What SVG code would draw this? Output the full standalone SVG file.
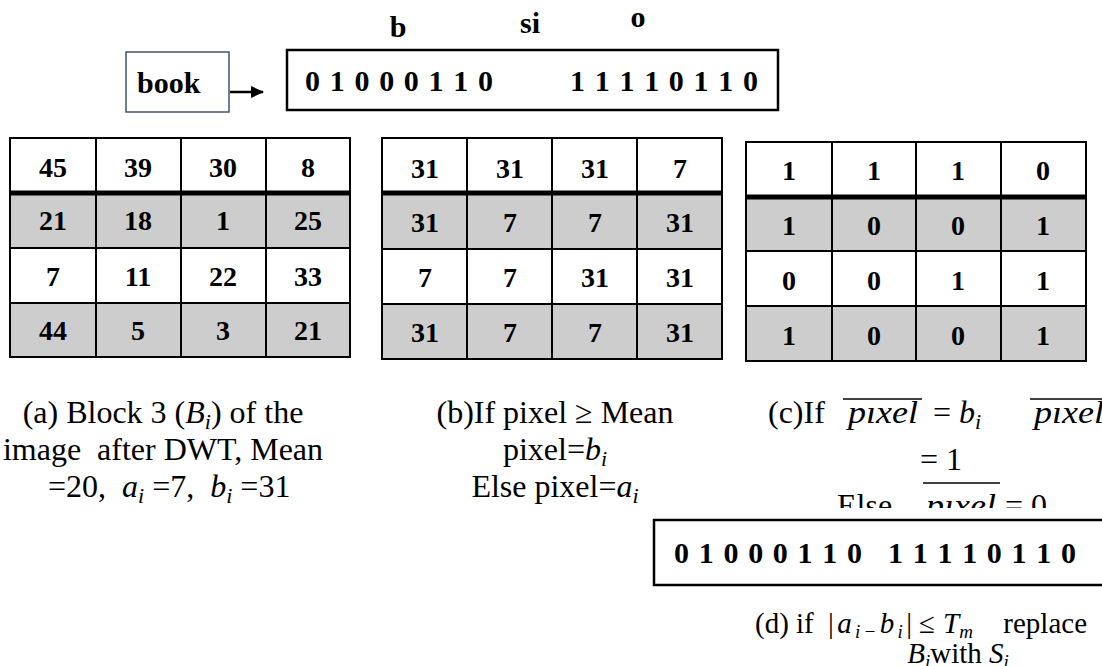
<svg xmlns="http://www.w3.org/2000/svg" width="1102" height="666" viewBox="0 0 1102 666">
<style>
.bd{font-family:"Liberation Serif","Times New Roman",serif;font-weight:bold;font-size:30px;fill:#000}
.num{font-family:"Liberation Serif","Times New Roman",serif;font-weight:bold;font-size:28px;fill:#000;text-anchor:middle}
.cap{font-family:"Liberation Serif","Times New Roman",serif;font-size:32px;fill:#000}
.capd{font-family:"Liberation Serif","Times New Roman",serif;font-size:29px;fill:#000}
.it{font-style:italic}
.cell{stroke:#000;stroke-width:2;fill:#fff}
.g{fill:#cdcdcd}
.thick{stroke:#000;stroke-width:5}
.ln{stroke:#000;stroke-width:2;fill:none}
.box{stroke:#000;stroke-width:2.5;fill:#fff}
.ov{stroke:#000;stroke-width:1.3}
</style>
<defs>
<marker id="ah" markerWidth="13" markerHeight="12" refX="12" refY="6" orient="auto" markerUnits="userSpaceOnUse">
<path d="M0,0 L13,6 L0,12 z" fill="#000"/>
</marker>
<clipPath id="clipc"><rect x="700" y="380" width="402" height="128"/></clipPath>
</defs>
<rect width="1102" height="666" fill="#fff"/>

<g id="labels-top">
<text class="bd" x="398" y="37" text-anchor="middle" font-size="28">b</text>
<text class="bd" x="530" y="33" text-anchor="middle" font-size="28">si</text>
<text class="bd" x="638" y="27" text-anchor="middle" font-size="28">o</text>
</g>

<g id="book">
<rect x="126" y="52" width="103" height="60" fill="#fff" stroke="#44546a" stroke-width="1.5"/>
<text class="bd" x="137" y="93">book</text>
</g>

<g id="connectors">
<line x1="230" y1="92" x2="263" y2="92" stroke="#000" stroke-width="2.5" marker-end="url(#ah)"/>
</g>

<g id="bits-top">
<rect x="287" y="50" width="491" height="60" class="box"/>
<text class="bd" x="305" y="91" textLength="188" lengthAdjust="spacing">0 1 0 0 0 1 1 0</text>
<text class="bd" x="570" y="91" textLength="188" lengthAdjust="spacing">1 1 1 1 0 1 1 0</text>
</g>

<g id="table-a">
<rect x="10" y="138" width="340" height="55" class="cell"/>
<rect x="10" y="193" width="340" height="55" class="cell g"/>
<rect x="10" y="248" width="340" height="55" class="cell"/>
<rect x="10" y="303" width="340" height="54" class="cell g"/>
<line x1="96" y1="138" x2="96" y2="357" class="ln"/>
<line x1="181" y1="138" x2="181" y2="357" class="ln"/>
<line x1="266" y1="138" x2="266" y2="357" class="ln"/>
<line x1="10" y1="193" x2="350" y2="193" class="thick"/>
<text class="num" x="53" y="177">45</text><text class="num" x="138" y="177">39</text><text class="num" x="223" y="177">30</text><text class="num" x="308" y="177">8</text>
<text class="num" x="53" y="230">21</text><text class="num" x="138" y="230">18</text><text class="num" x="223" y="230">1</text><text class="num" x="308" y="230">25</text>
<text class="num" x="53" y="286">7</text><text class="num" x="138" y="286">11</text><text class="num" x="223" y="286">22</text><text class="num" x="308" y="286">33</text>
<text class="num" x="53" y="340">44</text><text class="num" x="138" y="340">5</text><text class="num" x="223" y="340">3</text><text class="num" x="308" y="340">21</text>
</g>

<g id="table-b">
<rect x="382" y="138" width="340" height="55" class="cell"/>
<rect x="382" y="193" width="340" height="56" class="cell g"/>
<rect x="382" y="249" width="340" height="55" class="cell"/>
<rect x="382" y="304" width="340" height="55" class="cell g"/>
<line x1="467" y1="138" x2="467" y2="359" class="ln"/>
<line x1="552" y1="138" x2="552" y2="359" class="ln"/>
<line x1="637" y1="138" x2="637" y2="359" class="ln"/>
<line x1="382" y1="193" x2="722" y2="193" class="thick"/>
<text class="num" x="425" y="178">31</text><text class="num" x="510" y="178">31</text><text class="num" x="595" y="178">31</text><text class="num" x="680" y="178">7</text>
<text class="num" x="425" y="232">31</text><text class="num" x="510" y="232">7</text><text class="num" x="595" y="232">7</text><text class="num" x="680" y="232">31</text>
<text class="num" x="425" y="287">7</text><text class="num" x="510" y="287">7</text><text class="num" x="595" y="287">31</text><text class="num" x="680" y="287">31</text>
<text class="num" x="425" y="342">31</text><text class="num" x="510" y="342">7</text><text class="num" x="595" y="342">7</text><text class="num" x="680" y="342">31</text>
</g>

<g id="table-c">
<rect x="746" y="142" width="340" height="55" class="cell"/>
<rect x="746" y="197" width="340" height="54" class="cell g"/>
<rect x="746" y="251" width="340" height="55" class="cell"/>
<rect x="746" y="306" width="340" height="55" class="cell g"/>
<line x1="832" y1="142" x2="832" y2="361" class="ln"/>
<line x1="916" y1="142" x2="916" y2="361" class="ln"/>
<line x1="1001" y1="142" x2="1001" y2="361" class="ln"/>
<line x1="746" y1="197" x2="1086" y2="197" class="thick"/>
<text class="num" x="789" y="180">1</text><text class="num" x="874" y="180">1</text><text class="num" x="958" y="180">1</text><text class="num" x="1043" y="180">0</text>
<text class="num" x="789" y="235">1</text><text class="num" x="874" y="235">0</text><text class="num" x="958" y="235">0</text><text class="num" x="1043" y="235">1</text>
<text class="num" x="789" y="290">0</text><text class="num" x="874" y="290">0</text><text class="num" x="958" y="290">1</text><text class="num" x="1043" y="290">1</text>
<text class="num" x="789" y="345">1</text><text class="num" x="874" y="345">0</text><text class="num" x="958" y="345">0</text><text class="num" x="1043" y="345">1</text>
</g>

<g id="caption-a">
<text class="cap" x="163" y="423" text-anchor="middle">(a) Block 3 (<tspan class="it">B</tspan><tspan class="it" font-size="22" dy="6">i</tspan><tspan dy="-6">) of the</tspan></text>
<text class="cap" x="163" y="460" text-anchor="middle" xml:space="preserve">image  after DWT, Mean</text>
<text class="cap" x="48" y="497" xml:space="preserve">=20,  <tspan class="it">a</tspan><tspan class="it" font-size="22" dy="6">i</tspan><tspan dy="-6"> =7,  </tspan><tspan class="it">b</tspan><tspan class="it" font-size="22" dy="6">i</tspan><tspan dy="-6"> =31</tspan></text>
</g>

<g id="caption-b">
<text class="cap" x="555" y="423" text-anchor="middle">(b)If pixel ≥ Mean</text>
<text class="cap" x="555" y="460" text-anchor="middle">pixel=<tspan class="it">b</tspan><tspan class="it" font-size="22" dy="6">i</tspan></text>
<text class="cap" x="555" y="497" text-anchor="middle">Else pixel=<tspan class="it">a</tspan><tspan class="it" font-size="22" dy="6">i</tspan></text>
</g>

<g id="caption-c" clip-path="url(#clipc)">
<text class="cap" x="768" y="423">(c)If</text>
<text class="cap it" x="848" y="423" textLength="70" lengthAdjust="spacingAndGlyphs">pıxel</text>
<line x1="843" y1="399" x2="922" y2="399" class="ov"/>
<text class="cap" x="933" y="423">= <tspan class="it">b</tspan><tspan class="it" font-size="22" dy="6">i</tspan></text>
<text class="cap it" x="1034" y="423" textLength="70" lengthAdjust="spacingAndGlyphs">pıxel</text>
<line x1="1030" y1="399" x2="1102" y2="399" class="ov"/>
<text class="cap" x="941" y="470" text-anchor="middle">= 1</text>
<line x1="923" y1="483" x2="1000" y2="483" class="ov"/>
<text class="cap" x="837" y="516">Else</text>
<text class="cap it" x="926" y="516" textLength="70" lengthAdjust="spacingAndGlyphs">pıxel</text>
<text class="cap" x="1005" y="516">= 0</text>
</g>

<g id="bits-bottom">
<rect x="654" y="520" width="460" height="65" class="box"/>
<text class="bd" x="674" y="563" textLength="188" lengthAdjust="spacing">0 1 0 0 0 1 1 0</text>
<text class="bd" x="888" y="563" textLength="188" lengthAdjust="spacing">1 1 1 1 0 1 1 0</text>
</g>

<g id="caption-d">
<text class="capd" x="755" y="633">(d) if</text>
<text class="capd" x="828" y="633" textLength="84" lengthAdjust="spacing">|<tspan class="it">a</tspan><tspan class="it" font-size="19" dy="5">i−</tspan><tspan class="it" dy="-5">b</tspan><tspan class="it" font-size="19" dy="5">i</tspan><tspan dy="-5">|</tspan></text>
<text class="capd" x="919" y="633">≤</text>
<text class="capd it" x="943" y="633">T<tspan font-size="19" dy="5">m</tspan></text>
<text class="capd" x="1087" y="633" text-anchor="end">replace</text>
<text class="capd" x="958" y="663" text-anchor="middle"><tspan class="it">B</tspan><tspan class="it" font-size="19" dy="5">i</tspan><tspan dy="-5">with </tspan><tspan class="it">S</tspan><tspan class="it" font-size="19" dy="5">i</tspan></text>
</g>
</svg>
